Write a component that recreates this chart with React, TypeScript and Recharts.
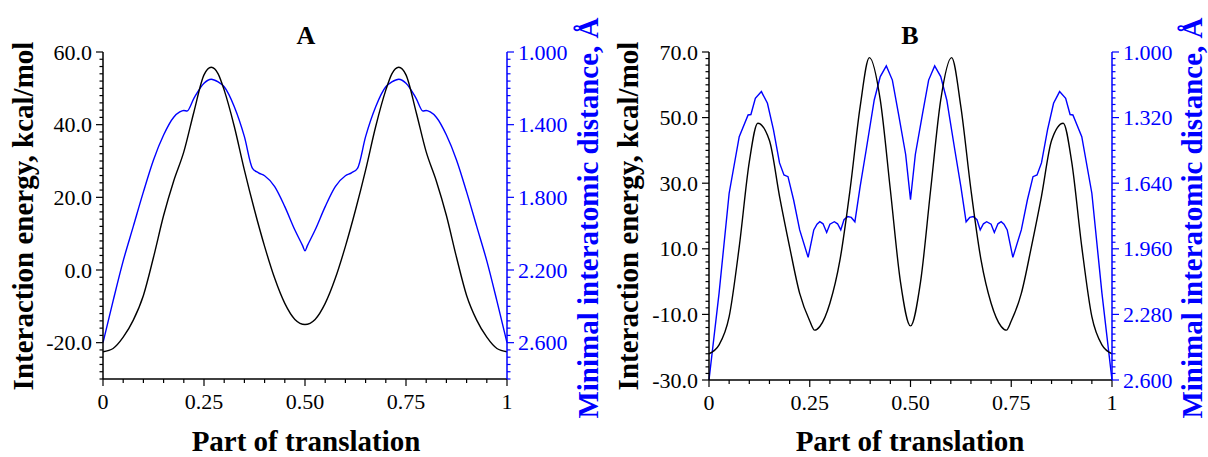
import React from "react";
import { LineChart, Line, XAxis, YAxis } from "recharts";

// Panel A
const tEnergyA = [0, 0.025, 0.05, 0.075, 0.1, 0.125, 0.15, 0.175, 0.2, 0.225, 0.25, 0.268, 0.285, 0.3, 0.325, 0.35, 0.375, 0.4, 0.425, 0.45, 0.475, 0.5,
  0.525, 0.55, 0.575, 0.6, 0.625, 0.65, 0.675, 0.7, 0.715, 0.732, 0.75, 0.775, 0.8, 0.825, 0.85, 0.875, 0.9, 0.925, 0.95, 0.975, 1];
const energyA = [-22.5, -21.6, -18.5, -13.8, -7.0, 3.5, 15.0, 24.5, 32.5, 43.5, 53.7, 55.8, 54.0, 49.5, 39.5, 27.5, 16.5, 6.5, -2.3, -9.2, -13.6, -15.0,
  -13.6, -9.2, -2.3, 6.5, 16.5, 27.5, 39.5, 49.5, 54.0, 55.8, 53.7, 43.5, 32.5, 24.5, 15.0, 3.5, -7.0, -13.8, -18.5, -21.6, -22.5];

const tDistA = [0, 0.025, 0.05, 0.075, 0.1, 0.125, 0.15, 0.175, 0.19, 0.2, 0.208, 0.225, 0.25, 0.268, 0.285, 0.3, 0.325, 0.35, 0.37, 0.385, 0.4, 0.425, 0.45, 0.475, 0.494, 0.5,
  0.506, 0.525, 0.55, 0.575, 0.6, 0.615, 0.63, 0.65, 0.675, 0.7, 0.715, 0.732, 0.75, 0.775, 0.792, 0.8, 0.81, 0.825, 0.85, 0.875, 0.9, 0.925, 0.95, 0.975, 1];
const distA = [2.6, 2.37, 2.15, 1.96, 1.77, 1.594, 1.457, 1.359, 1.33, 1.322, 1.325, 1.255, 1.172, 1.15, 1.165, 1.191, 1.301, 1.466, 1.64, 1.665, 1.681, 1.741, 1.851, 1.98, 2.066, 2.094,
  2.066, 1.98, 1.851, 1.741, 1.681, 1.665, 1.64, 1.466, 1.301, 1.191, 1.165, 1.15, 1.172, 1.255, 1.325, 1.322, 1.33, 1.359, 1.457, 1.594, 1.77, 1.96, 2.15, 2.37, 2.6];

// Panel B
const tEnergyB = [0, 0.025, 0.05, 0.075, 0.1, 0.121, 0.15, 0.175, 0.2, 0.225, 0.25, 0.262, 0.275, 0.3, 0.325, 0.35, 0.375, 0.398, 0.425, 0.45, 0.475, 0.5,
  0.525, 0.55, 0.575, 0.602, 0.625, 0.65, 0.675, 0.7, 0.725, 0.738, 0.75, 0.775, 0.8, 0.825, 0.85, 0.879, 0.9, 0.925, 0.95, 0.975, 1];
const energyB = [-22.0, -19.3, -10.7, 10.6, 36.5, 48.3, 43.0, 26.0, 10.6, -3.6, -12.0, -14.8, -13.7, -6.6, 6.6, 28.0, 53.3, 68.3, 55.4, 28.0, 0.0, -13.5,
  0.0, 28.0, 55.4, 68.3, 53.3, 28.0, 6.6, -6.6, -13.7, -14.8, -12.0, -3.6, 10.6, 26.0, 43.0, 48.3, 36.5, 10.6, -10.7, -19.3, -22.0];

const tDistB = [0, 0.025, 0.05, 0.075, 0.097, 0.104, 0.115, 0.13, 0.145, 0.16, 0.175, 0.186, 0.196, 0.21, 0.225, 0.246, 0.26, 0.268, 0.275, 0.283, 0.292, 0.3, 0.311, 0.319, 0.327, 0.335, 0.344, 0.353, 0.362, 0.375, 0.39, 0.41, 0.425, 0.44, 0.455, 0.47, 0.488, 0.5,
  0.512, 0.53, 0.545, 0.56, 0.575, 0.59, 0.61, 0.625, 0.638, 0.647, 0.656, 0.665, 0.673, 0.681, 0.689, 0.7, 0.708, 0.717, 0.725, 0.732, 0.74, 0.754, 0.775, 0.79, 0.804, 0.814, 0.825, 0.84, 0.855, 0.87, 0.885, 0.896, 0.903, 0.925, 0.95, 0.975, 1];
const distB = [2.6, 2.176, 1.689, 1.413, 1.307, 1.305, 1.226, 1.193, 1.25, 1.38, 1.541, 1.6, 1.608, 1.722, 1.868, 2.002, 1.868, 1.84, 1.828, 1.838, 1.88, 1.84, 1.828, 1.838, 1.868, 1.818, 1.803, 1.807, 1.828, 1.657, 1.478, 1.234, 1.12, 1.068, 1.137, 1.299, 1.5, 1.72,
  1.5, 1.299, 1.137, 1.068, 1.12, 1.234, 1.478, 1.657, 1.828, 1.807, 1.803, 1.818, 1.868, 1.838, 1.828, 1.84, 1.88, 1.838, 1.828, 1.84, 1.868, 2.002, 1.868, 1.722, 1.608, 1.6, 1.541, 1.38, 1.25, 1.193, 1.226, 1.305, 1.307, 1.413, 1.689, 2.176, 2.6];

// tick labels
const xMajor = [0, 0.25, 0.5, 0.75, 1];
const xTickLabels = ["0", "0.25", "0.50", "0.75", "1"];
const energyMajorA = [-20, 0, 20, 40, 60];
const distMajorA = [1.0, 1.4, 1.8, 2.2, 2.6];
const energyMajorB = [-30, -10, 10, 30, 50, 70];
const distMajorB = [1.0, 1.32, 1.64, 1.96, 2.28, 2.6];

const FONT = "Liberation Serif, serif";
const BLUE = "#0000ff";

const steps = (start: number, step: number, n: number) =>
  Array.from({ length: n }, (_, i) => Math.round((start + step * i) * 10000) / 10000);

const near = (v: number, list: number[]) => list.findIndex((m) => Math.abs(m - v) < 1e-6);

const toPoints = (ts: number[], vs: number[]) => ts.map((t, i) => ({ t, v: vs[i] }));

const YTick = (props: any) => {
  const { x, y, payload, side, majors, digits, color } = props;
  const v = payload.value;
  const major = near(v, majors) >= 0;
  const dir = side === "left" ? -1 : 1;
  const len = major ? 7 : 3.5;
  return (
    <g>
      <line x1={x} y1={y} x2={x + dir * len} y2={y} stroke={color} strokeWidth={1.2} />
      {major && (
        <text
          x={x + dir * 11}
          y={y}
          textAnchor={side === "left" ? "end" : "start"}
          dominantBaseline="central"
          fill={color}
          style={{ fontFamily: FONT, fontSize: 22 }}
        >
          {v.toFixed(digits)}
        </text>
      )}
    </g>
  );
};

const XTick = (props: any) => {
  const { x, y, payload } = props;
  const idx = near(payload.value, xMajor);
  const len = idx >= 0 ? 7 : 4;
  return (
    <g>
      <line x1={x} y1={y} x2={x} y2={y + len} stroke="#000" strokeWidth={1.2} />
      {idx >= 0 && (
        <text x={x} y={y + 22} textAnchor="middle" dominantBaseline="central" fill="#000" style={{ fontFamily: FONT, fontSize: 22 }}>
          {xTickLabels[idx]}
        </text>
      )}
    </g>
  );
};

interface PanelProps {
  title: string;
  left: number;
  margin: { top: number; right: number; bottom: number; left: number };
  energy: { t: number; v: number }[];
  dist: { t: number; v: number }[];
  distCurve: "linear" | "monotone";
  energyDomain: [number, number];
  distDomain: [number, number];
  energyTicks: number[];
  distTicks: number[];
  energyMajors: number[];
  distMajors: number[];
  leftTitleX: number;
  rightTitleX: number;
}

const titleStyle = { fontFamily: FONT, fontSize: 29, fontWeight: 700 } as const;

const Panel: React.FC<PanelProps> = (p) => (
  <div style={{ position: "absolute", left: p.left, top: 0 }}>
    <LineChart width={604} height={457} margin={p.margin}>
      <XAxis
        type="number"
        dataKey="t"
        domain={[0, 1]}
        ticks={steps(0, 0.05, 21)}
        interval={0}
        height={40}
        tickSize={0}
        tickMargin={0}
        tickLine={false}
        tick={<XTick />}
        axisLine={{ stroke: "#000", strokeWidth: 1.5 }}
      />
      <YAxis
        yAxisId="left"
        type="number"
        domain={p.energyDomain}
        ticks={p.energyTicks}
        interval={0}
        width={60}
        tickSize={0}
        tickMargin={0}
        tickLine={false}
        tick={<YTick side="left" majors={p.energyMajors} digits={1} color="#000" />}
        axisLine={{ stroke: "#000", strokeWidth: 1.5 }}
      />
      <YAxis
        yAxisId="right"
        orientation="right"
        type="number"
        reversed
        domain={p.distDomain}
        ticks={p.distTicks}
        interval={0}
        width={60}
        tickSize={0}
        tickMargin={0}
        tickLine={false}
        tick={<YTick side="right" majors={p.distMajors} digits={3} color={BLUE} />}
        axisLine={{ stroke: BLUE, strokeWidth: 1.5 }}
      />
      <Line
        data={p.dist}
        dataKey="v"
        yAxisId="right"
        type={p.distCurve}
        stroke={BLUE}
        strokeWidth={1.4}
        dot={false}
        isAnimationActive={false}
      />
      <Line
        data={p.energy}
        dataKey="v"
        yAxisId="left"
        type="monotone"
        stroke="#000"
        strokeWidth={1.4}
        dot={false}
        isAnimationActive={false}
      />
      <text x={306} y={44} textAnchor="middle" fill="#000" style={{ ...titleStyle, fontSize: 26 }}>
        {p.title}
      </text>
      <text x={306} y={451} textAnchor="middle" fill="#000" style={titleStyle}>
        Part of translation
      </text>
      <text
        x={p.leftTitleX}
        y={216}
        transform={`rotate(-90 ${p.leftTitleX} 216)`}
        textAnchor="middle"
        fill="#000"
        style={titleStyle}
      >
        Interaction energy, kcal/mol
      </text>
      <text
        x={p.rightTitleX}
        y={218}
        transform={`rotate(-90 ${p.rightTitleX} 218)`}
        textAnchor="middle"
        fill={BLUE}
        style={titleStyle}
      >
        Minimal interatomic distance, Å
      </text>
    </LineChart>
  </div>
);

export default function App() {
  return (
    <div style={{ position: "absolute", left: 0, top: 0, width: 1208, height: 457, background: "#fff", fontFamily: FONT }}>
      <Panel
        title="A"
        left={0}
        margin={{ top: 52, right: 37, bottom: 38, left: 43 }}
        energy={toPoints(tEnergyA, energyA)}
        dist={toPoints(tDistA, distA)}
        distCurve="monotone"
        energyDomain={[-30, 60]}
        distDomain={[1.0, 2.8]}
        energyTicks={steps(-30, 2, 46)}
        distTicks={steps(1.0, 0.04, 46)}
        energyMajors={energyMajorA}
        distMajors={distMajorA}
        leftTitleX={33}
        rightTitleX={598}
      />
      <Panel
        title="B"
        left={604}
        margin={{ top: 52, right: 36, bottom: 37, left: 45 }}
        energy={toPoints(tEnergyB, energyB)}
        dist={toPoints(tDistB, distB)}
        distCurve="linear"
        energyDomain={[-30, 70]}
        distDomain={[1.0, 2.6]}
        energyTicks={steps(-30, 2, 51)}
        distTicks={steps(1.0, 0.032, 51)}
        energyMajors={energyMajorB}
        distMajors={distMajorB}
        leftTitleX={34}
        rightTitleX={598}
      />
    </div>
  );
}
